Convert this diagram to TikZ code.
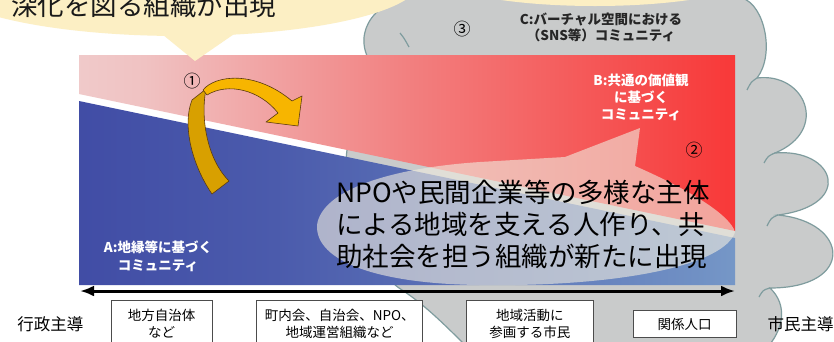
\documentclass[tikz,border=0pt]{standalone}
\usepackage{fontspec}
\setmainfont{Noto Sans CJK JP}
\usetikzlibrary{arrows.meta, positioning}

\definecolor{bubbleyellow}{HTML}{FCEFC4}
\definecolor{cloudgrey}{HTML}{C9CBCB}
\definecolor{cloudline}{HTML}{7F9C9E}
\definecolor{redstart}{HTML}{EEF0F0}
\definecolor{redmid}{HTML}{F0C2C2}
\definecolor{redhalf}{HTML}{F28080}
\definecolor{redlate}{HTML}{F64646}
\definecolor{reddeep}{HTML}{FD1A1A}
\definecolor{redend}{HTML}{FF0000}
\definecolor{bluestart}{HTML}{30359A}
\definecolor{bluemid}{HTML}{4B5BAC}
\definecolor{bluelate}{HTML}{7090C4}
\definecolor{blueend}{HTML}{A6D4DF}
\definecolor{haze}{HTML}{F0ECDF}
\definecolor{goldfront}{HTML}{F7B500}
\definecolor{goldback}{HTML}{D8A000}
\definecolor{goldline}{HTML}{5A3A10}

\pgfdeclarehorizontalshading{valueshade}{100bp}{color(0bp)=(redstart); color(30bp)=(redmid); color(50bp)=(redhalf); color(70bp)=(redlate); color(86bp)=(reddeep); color(100bp)=(redend)}
\pgfdeclarehorizontalshading{localshade}{100bp}{color(0bp)=(bluestart); color(40bp)=(bluemid); color(72bp)=(bluelate); color(100bp)=(blueend)}

\begin{document}
\begin{tikzpicture}[
  x=1pt, y=-1pt,
  cloudbody/.style={fill=cloudgrey, draw=cloudline, line width=1.2pt},
  lobe/.style={draw=cloudline, line width=1.2pt},
  bubble/.style={fill=bubbleyellow},
  goldarrow/.style={draw=goldline, line width=0.6pt, line join=round},
  numtag/.style={inner sep=0pt, font=\fontsize{17}{17}\selectfont},
  whitelabel/.style={text=white, align=center, inner sep=0pt, font=\bfseries\fontsize{13.5}{17}\selectfont},
  cloudlabel/.style={text=black!85, align=center, inner sep=0pt, font=\bfseries\fontsize{13.5}{16}\selectfont},
  bigtext/.style={align=left, inner sep=0pt, font=\fontsize{26.5}{32}\selectfont},
  tagbox/.style={draw=black!70, fill=white, line width=0.7pt, align=center, inner sep=0pt, font=\fontsize{13.5}{17}\selectfont},
  sidelabel/.style={inner sep=0pt, font=\fontsize{16.5}{17}\selectfont},
  axis/.style={<->, >={Latex[length=14pt, width=11pt]}, line width=3pt}
]
\fill[white] (0,0) rectangle (834,341);
\useasboundingbox (0,0) rectangle (834,341);

% cloud behind everything
\draw[cloudbody] (368,58)
  .. controls (352,25) and (385,-8) .. (425,-2)
  -- (425,-30) -- (745,-30) -- (742,-2)
  .. controls (765,5) and (775,55) .. (757,78)
  .. controls (805,72) and (830,130) .. (775,153)
  .. controls (835,148) and (855,205) .. (778,215)
  .. controls (850,222) and (855,288) .. (770,288)
  .. controls (788,305) and (784,330) .. (765,350)
  -- (470,350)
  .. controls (445,325) and (425,305) .. (402,290)
  .. controls (370,270) and (340,200) .. (347,150)
  .. controls (345,110) and (355,80) .. (368,58) -- cycle;
\draw[lobe] (400,33) .. controls (404,38) .. (409,47);
\draw[lobe] (757,78) .. controls (751,82) .. (747,90);
\draw[lobe] (775,153) .. controls (768,156) .. (764,163);
\draw[lobe] (778,215) .. controls (771,218) .. (767,226);
\draw[lobe] (770,288) .. controls (763,290) .. (759,297);

% main panel
\shade[shading=valueshade] (79,55) -- (735,55) -- (735,231) -- (79,94) -- cycle;
\shade[shading=localshade] (79,101) -- (735,238) -- (735,285) -- (79,285) -- cycle;

% haze arrow
\fill[haze, fill opacity=0.6] (317,225)
  .. controls (322,190) and (390,168) .. (480,162) -- (565,157) -- (640,128) -- (635,166)
  .. controls (690,190) and (730,215) .. (735,232)
  .. controls (725,265) and (620,287) .. (480,285)
  .. controls (380,284) and (315,262) .. (317,225) -- cycle;

% speech bubbles
\fill[bubble] (180,-19) ellipse [x radius=240, y radius=55];
\fill[bubble] (157,30) -- (195,61) -- (240,30) -- cycle;
\fill[bubble] (595,-30) ellipse [x radius=170, y radius=36];

% curved arrow 1
\filldraw[goldarrow, fill=goldback] (212,194)
  .. controls (192,165) and (182,125) .. (192,100) -- (206,89)
  .. controls (200,120) and (208,160) .. (229,181) -- cycle;
\filldraw[goldarrow, fill=goldfront] (203,90)
  .. controls (215,75) and (255,70) .. (292,101) -- (302,96) -- (298,126) -- (266,122) -- (278,113)
  .. controls (260,90) and (228,82) .. (207,95) -- cycle;

% texts
\node[anchor=base west, inner sep=0pt, text=black!90, font=\fontsize{26.5}{30}\selectfont] (deepen) at (11,15) {深化を図る組織が出現};
\node[numtag] (one) at (192,81) {①};
\node[numtag] (two) at (694,150) {②};
\node[numtag] (three) at (462,29) {③};
\node[cloudlabel] (virtual) at (601,27) {C:バーチャル空間における\\（SNS等）コミュニティ};
\node[whitelabel] (shared) at (641,97) {B:共通の価値観\\に基づく\\コミュニティ};
\node[whitelabel, font=\bfseries\fontsize{13.5}{18}\selectfont] (local) at (158,256) {A:地縁等に基づく\\コミュニティ};
\node[bigtext, anchor=west] (emerge) at (336,224) {NPOや民間企業等の多様な主体\\による地域を支える人作り、共\\助社会を担う組織が新たに出現};

% axis and actors
\coordinate (govend) at (80,291);
\coordinate (citend) at (735,291);
\draw[axis] (govend) -- (citend);

\node[tagbox, minimum width=101pt, minimum height=48pt] (muni) at (161.5,324) {地方自治体\\など};
\node[tagbox, minimum width=166pt, minimum height=48pt, right=44pt of muni] (assoc) {町内会、自治会、NPO、\\地域運営組織など};
\node[tagbox, minimum width=127pt, minimum height=48pt, right=43pt of assoc] (resident) {地域活動に\\参画する市民};
\node[tagbox, minimum width=103pt, minimum height=27pt, right=39pt of resident] (related) {関係人口};
\node[sidelabel, left=27pt of muni] (govlead) {行政主導};
\node[sidelabel, right=31pt of related] (citlead) {市民主導};

\end{tikzpicture}
\end{document}
